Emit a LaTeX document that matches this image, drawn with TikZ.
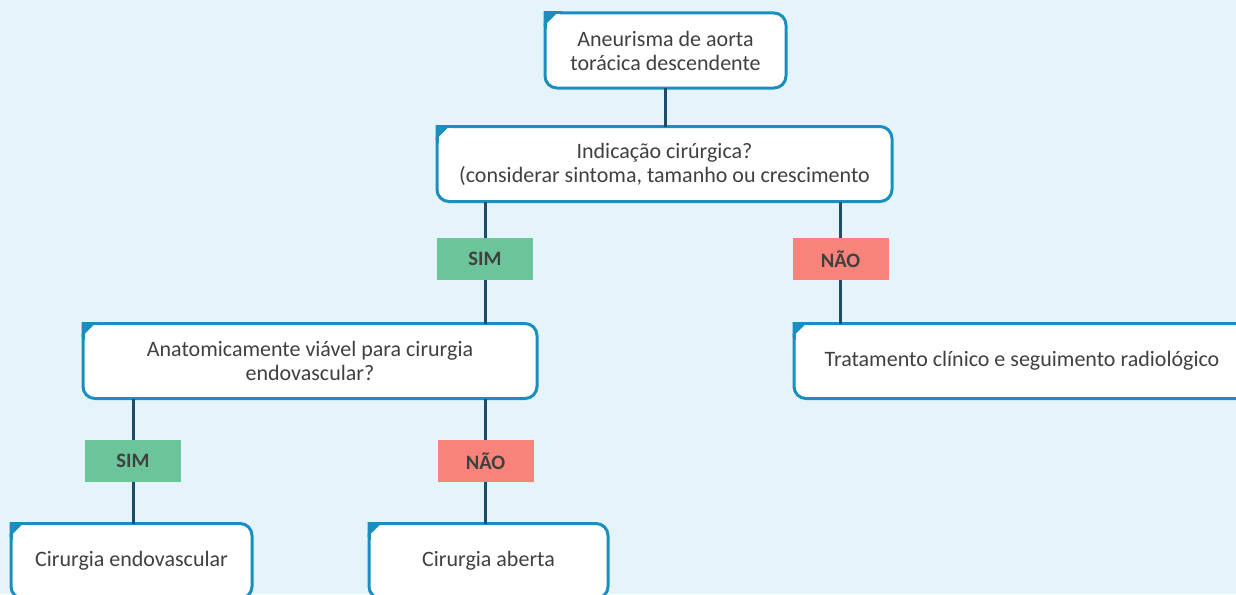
\documentclass[tikz,border=0pt]{standalone}
\usepackage{fontspec}
\setmainfont{Carlito}
\usetikzlibrary{positioning}

\definecolor{fundo}{HTML}{E5F4FB}
\definecolor{borda}{HTML}{1A8FBF}
\definecolor{linha}{HTML}{1E4D6B}
\definecolor{verde}{HTML}{6CC49B}
\definecolor{vermelho}{HTML}{F7837B}
\definecolor{texto}{HTML}{404040}

\tikzset{
  caixa/.style={draw=borda, fill=white, line width=3pt, rounded corners=12pt,
    outer sep=0pt, inner sep=0pt, align=center, text=texto,
    font=\fontsize{22}{24}\selectfont, minimum height=75pt},
  rotulo/.style={inner sep=0pt, outer sep=0pt, minimum width=96pt, minimum height=42pt,
    text=texto, font=\fontsize{20.5}{22}\selectfont\bfseries},
  conector/.style={draw=linha, line width=3pt},
}

% canto de cima a esquerda: reto, com triangulo azul
\newcommand{\canto}[1]{
  \fill[white] (#1.north west) rectangle ++(15,15);
  \draw[borda, line width=3pt, line cap=rect]
    ([yshift=-15pt]#1.north west) -- (#1.north west) -- ([xshift=15pt]#1.north west);
  \fill[borda] ([xshift=-1.5pt,yshift=1.5pt]#1.north west) -- ++(15,0) -- ++(-15,15) -- cycle;
}

\begin{document}
\begin{tikzpicture}[x=1pt, y=-1pt]
	\fill[fundo] (0,0) rectangle (1236,594);
	\useasboundingbox (0,0) rectangle (1236,594);
	\clip (0,0) rectangle (1236,594);

	\node[caixa, minimum width=241pt] (aneurisma) at (665.5,50.5) {Aneurisma de aorta\\tor\'acica descendente};
	\node[caixa, minimum width=455pt] (indicacao) at (664.5,164) {Indica\c{c}\~ao cir\'urgica?\\(considerar sintoma, tamanho ou crescimento};
	\node[caixa, minimum width=454pt] (anatomia) at (310,361) {Anatomicamente vi\'avel para cirurgia\\endovascular?};
	\node[caixa, minimum width=456pt] (clinico) at (1022,361) {Tratamento cl\'inico e seguimento radiol\'ogico};
	\node[caixa, minimum width=241pt] (endo) at (131.5,561) {Cirurgia endovascular};
	\node[caixa, minimum width=239pt] (aberta) at (488.5,561) {Cirurgia aberta};

	\node[rotulo, fill=verde] (sim1) at (485,259) {SIM};
	\node[rotulo, fill=vermelho] (nao1) at (840.5,259) {NÃO};
	\node[rotulo, fill=verde] (sim2) at (133,461) {SIM};
	\node[rotulo, fill=vermelho] (nao2) at (485.5,461) {NÃO};

	\draw[conector] (aneurisma.south) -- (aneurisma.south |- indicacao.north);
	\draw[conector] (sim1 |- indicacao.south) -- (sim1);
	\draw[conector] (sim1) -- (sim1 |- anatomia.north);
	\draw[conector] (nao1 |- indicacao.south) -- (nao1);
	\draw[conector] (nao1) -- (nao1 |- clinico.north);
	\draw[conector] (sim2 |- anatomia.south) -- (sim2);
	\draw[conector] (sim2) -- (sim2 |- endo.north);
	\draw[conector] (nao2 |- anatomia.south) -- (nao2);
	\draw[conector] (nao2) -- (nao2 |- aberta.north);

	\canto{aneurisma}
	\canto{indicacao}
	\canto{anatomia}
	\canto{clinico}
	\canto{endo}
	\canto{aberta}
\end{tikzpicture}
\end{document}
